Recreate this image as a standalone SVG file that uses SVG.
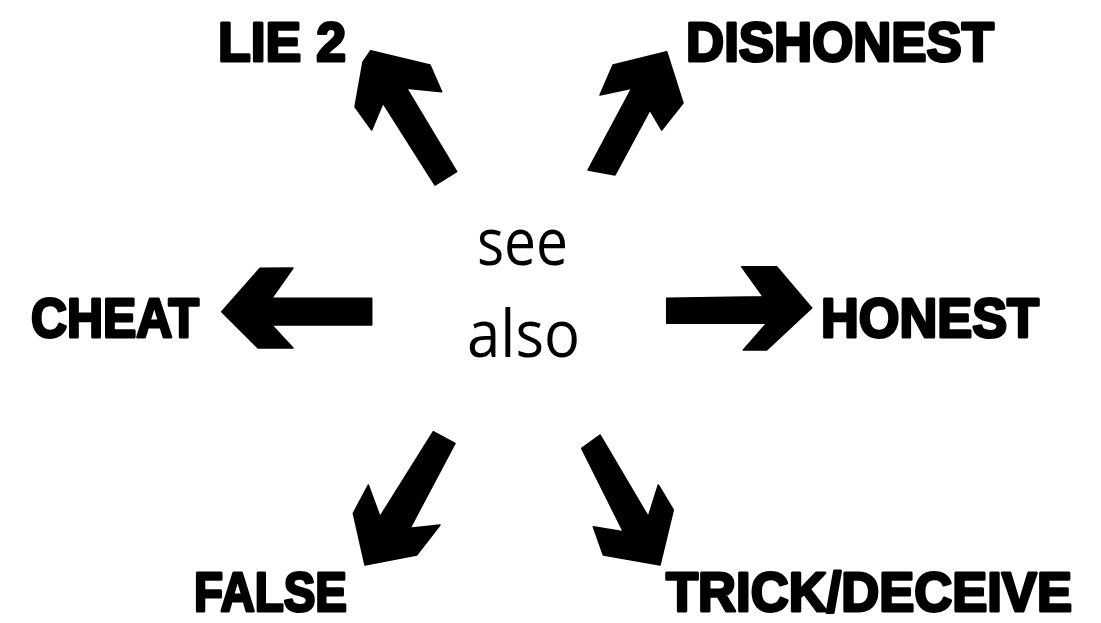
<svg xmlns="http://www.w3.org/2000/svg" width="1101" height="623" viewBox="0 0 1101 623">
<style>
.lbl{font-family:"Liberation Sans",Arial,sans-serif;font-weight:bold;font-size:56px;fill:#000;stroke:#000;stroke-width:3;stroke-linejoin:round}
.ctr{font-family:"Open Sans","Liberation Sans",sans-serif;font-size:66px;fill:#000}
.arr{fill:#000;stroke:#000;stroke-width:1.5;stroke-linejoin:round}
</style>
<rect width="1101" height="623" fill="#fff"/>
<g id="center"><text class="ctr" x="477" y="265" textLength="91" lengthAdjust="spacingAndGlyphs">see</text><text class="ctr" x="467" y="357" textLength="113" lengthAdjust="spacingAndGlyphs">also</text></g>
<g id="connectors">
<polygon class="arr" points="370.7,50.7 430,65 441.7,91.7 406.7,88.3 456.7,171.7 435,185 383,103 371.7,130 355,106.7 363,62"/>
<polygon class="arr" points="666.7,51.7 683,103 661.7,130 650,110 615,175 588,170 631.7,88.3 600,95 613,65"/>
<polygon class="arr" points="221.7,311.7 260,268.3 293,268 271.7,298.3 371.7,298.3 371.7,325 271.7,325 293,348 258,348"/>
<polygon class="arr" points="811.7,308 776.7,266.7 741.7,266.7 763.3,296.7 666.7,298.3 666.7,323.3 766.7,323.3 743.3,350 766.7,350"/>
<polygon class="arr" points="433.3,431.7 455,443.3 410,528.3 440,525 416.7,555 365,565 353.3,513.3 368.3,485 380,516.7"/>
<polygon class="arr" points="581.7,448.3 600,435 648.3,516.7 658.3,485 673.3,510 660,565 603.3,555 593.3,526.7 623.3,531.7"/>
</g>
<g id="lie2"><text class="lbl" x="218" y="61" textLength="128" lengthAdjust="spacingAndGlyphs">LIE 2</text></g>
<g id="dishonest"><text class="lbl" x="686" y="61" textLength="308" lengthAdjust="spacingAndGlyphs">DISHONEST</text></g>
<g id="cheat"><text class="lbl" x="31" y="337" textLength="168" lengthAdjust="spacingAndGlyphs">CHEAT</text></g>
<g id="honest"><text class="lbl" x="821" y="337" textLength="218" lengthAdjust="spacingAndGlyphs">HONEST</text></g>
<g id="false"><text class="lbl" x="194" y="611" textLength="153" lengthAdjust="spacingAndGlyphs">FALSE</text></g>
<g id="trick"><text class="lbl" x="666" y="611" textLength="406" lengthAdjust="spacingAndGlyphs">TRICK/DECEIVE</text></g>
</svg>
